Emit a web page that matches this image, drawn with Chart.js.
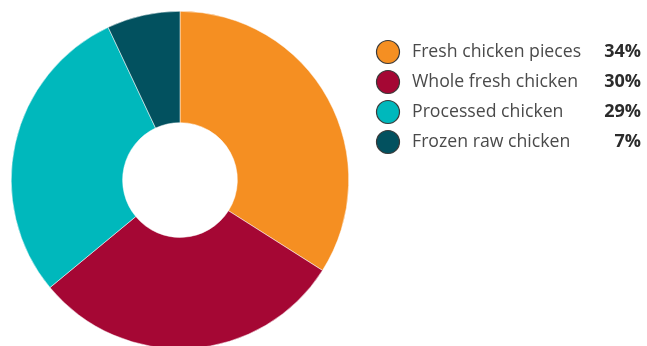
<!DOCTYPE html>
<html>
<head>
<meta charset="utf-8">
<script src="https://cdn.jsdelivr.net/npm/chart.js@4"></script>
<style>
  html, body { margin: 0; padding: 0; background: #fff; overflow: hidden; }
  #wrap { width: 647px; height: 346px; overflow: hidden; }
</style>
</head>
<body>
<div id="wrap"><canvas id="pie" width="647" height="360"></canvas></div>
<script>
const labels = ['Fresh chicken pieces', 'Whole fresh chicken', 'Processed chicken', 'Frozen raw chicken'];
const shares = [34, 30, 29, 7];
const colors = ['#F58F22', '#A50734', '#00B8BC', '#02515F'];

// legend drawn next to the doughnut, with the share right-aligned
const sideLegend = {
    id: 'sideLegend',
    afterDraw(chart) {
        const ctx = chart.ctx;
        const rowY = [52, 82, 112, 142];
        ctx.save();
        labels.forEach((label, i) => {
            const y = rowY[i];
            ctx.beginPath();
            ctx.arc(388, y, 11.5, 0, Math.PI * 2);
            ctx.fillStyle = colors[i];
            ctx.fill();
            ctx.lineWidth = 1.2;
            ctx.strokeStyle = '#3a3a3a';
            ctx.stroke();

            ctx.textBaseline = 'middle';
            ctx.textAlign = 'left';
            ctx.fillStyle = '#4a4a4a';
            ctx.font = '17.7px "Open Sans"';
            ctx.fillText(label, 412, y);

            ctx.textAlign = 'right';
            ctx.fillStyle = '#2b2b2b';
            ctx.font = 'bold 18px "Open Sans"';
            ctx.fillText(shares[i] + '%', 641, y);
        });
        ctx.restore();
    }
};

new Chart(document.getElementById('pie').getContext('2d'), {
    type: 'doughnut',
    data: {
        labels: labels,
        datasets: [{
            data: shares,
            backgroundColor: colors,
            borderWidth: 0.5,
            borderColor: '#ffffff'
        }]
    },
    options: {
        responsive: false,
        animation: false,
        cutout: '34%',
        layout: { padding: { left: 11, right: 298, top: 11, bottom: 11 } },
        plugins: {
            legend: { display: false },
            tooltip: { enabled: false }
        }
    },
    plugins: [sideLegend]
});
</script>
</body>
</html>
